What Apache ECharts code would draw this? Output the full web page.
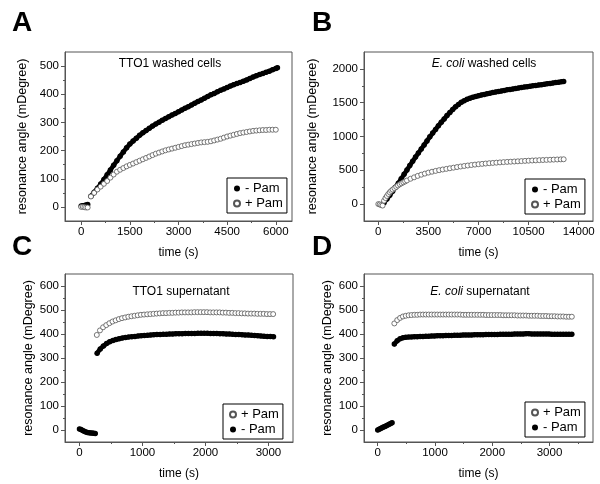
<!DOCTYPE html>
<html><head><meta charset="utf-8">
<script src="https://cdn.jsdelivr.net/npm/echarts@6/dist/echarts.min.js"></script>
<style>html,body{margin:0;padding:0;background:#fff}#c{width:600px;height:484px}</style>
</head><body><div id="c"></div>
<script>
const FONT = '"Liberation Sans", Arial, sans-serif';

// ---- tick labels ----
const xTicksA = [0, 1500, 3000, 4500, 6000];
const xMinorA = [750, 2250, 3750, 5250];
const yTicksA = [0, 100, 200, 300, 400, 500];
const yMinorA = [50, 150, 250, 350, 450];
const xTicksB = [0, 3500, 7000, 10500, 14000];
const xMinorB = [1750, 5250, 8750, 12250];
const yTicksB = [0, 500, 1000, 1500, 2000];
const yMinorB = [250, 750, 1250, 1750];
const xTicksC = [0, 1000, 2000, 3000];
const xMinorC = [500, 1500, 2500];
const xTicksD = [0, 1000, 2000, 3000];
const xMinorD = [500, 1500, 2500, 3500];
const yTicksCD = [0, 100, 200, 300, 400, 500, 600];
const yMinorCD = [50, 150, 250, 350, 450, 550];

// ---- series values [time (s), resonance angle (mDegree)] ----
// "Early" arrays = points recorded before the sample injection (before the jump)
const aMinusPamEarly = [[0,3],[50,4],[100,5],[150,7],[200,9]];
const aMinusPam = [[300,38],[400,52],[500,66],[600,81],[700,97],[800,114],[900,131],[1000,148],[1100,164],[1200,180],[1300,195],[1400,210],[1500,223],[1600,234],[1700,244],[1800,254],[1900,263],[2000,271],[2100,279],[2200,287],[2300,294],[2400,301],[2500,308],[2600,314],[2700,320],[2800,326],[2900,332],[3000,338],[3100,344],[3200,350],[3300,356],[3400,362],[3500,368],[3600,374],[3700,380],[3800,386],[3900,392],[4000,398],[4100,403],[4200,409],[4300,414],[4400,419],[4500,424],[4600,429],[4700,434],[4800,438],[4900,442],[5000,446],[5100,451],[5200,456],[5300,461],[5400,466],[5500,470],[5600,474],[5700,478],[5800,482],[5900,487],[6000,491],[6050,494]];
const aPlusPam = [[0,0],[50,0],[100,-1],[150,-2],[200,-2],[300,37],[400,50],[500,62],[600,72],[700,82],[800,92],[900,104],[1000,115],[1100,125],[1200,132],[1300,138],[1400,144],[1500,149],[1600,154],[1700,159],[1800,164],[1900,169],[2000,174],[2100,179],[2200,184],[2300,189],[2400,193],[2500,197],[2600,201],[2700,204],[2800,207],[2900,210],[3000,213],[3100,216],[3200,219],[3300,221],[3400,223],[3500,225],[3600,227],[3700,229],[3800,230],[3900,231],[4000,233],[4100,236],[4200,239],[4300,242],[4400,246],[4500,250],[4600,253],[4700,256],[4800,259],[4900,262],[5000,264],[5100,266],[5200,268],[5300,270],[5400,271],[5500,272],[5600,273],[5700,273],[5800,274],[5900,274],[6000,274]];

const bMinusPamEarly = [];
const bMinusPam = [[400,20],[600,75],[800,130],[1000,190],[1200,250],[1400,310],[1600,375],[1800,440],[2000,505],[2200,570],[2400,635],[2600,695],[2800,755],[3000,815],[3200,875],[3400,935],[3600,995],[3800,1050],[4000,1105],[4200,1160],[4400,1210],[4600,1260],[4800,1310],[5000,1355],[5200,1400],[5400,1440],[5600,1475],[5800,1505],[6000,1530],[6200,1550],[6400,1566],[6600,1580],[6800,1592],[7000,1603],[7200,1613],[7400,1623],[7600,1632],[7800,1641],[8000,1650],[8200,1658],[8400,1666],[8600,1674],[8800,1682],[9000,1690],[9200,1697],[9400,1704],[9600,1711],[9800,1718],[10000,1725],[10200,1731],[10400,1737],[10600,1743],[10800,1749],[11000,1755],[11200,1761],[11400,1767],[11600,1773],[11800,1779],[12000,1785],[12200,1791],[12400,1797],[12600,1803],[12800,1809],[12950,1814]];
const bPlusPam = [[0,0],[100,-5],[200,-15],[300,-22],[400,50],[500,90],[600,120],[700,150],[800,175],[900,196],[1000,215],[1125,236],[1250,255],[1375,275],[1500,293],[1625,308],[1750,322],[1875,336],[2000,350],[2250,375],[2500,396],[2750,417],[3000,435],[3250,451],[3500,466],[3750,479],[4000,491],[4250,502],[4500,512],[4750,521],[5000,530],[5250,539],[5500,548],[5750,556],[6000,564],[6250,571],[6500,578],[6750,584],[7000,590],[7250,595],[7500,600],[7750,605],[8000,609],[8250,613],[8500,617],[8750,621],[9000,624],[9250,627],[9500,630],[9750,633],[10000,636],[10250,639],[10500,642],[10750,645],[11000,647],[11250,650],[11500,652],[11750,654],[12000,656],[12250,658],[12500,660],[12750,662],[12950,663]];

const cMinusPamEarly = [[0,4],[25,2],[50,-2],[75,-5],[100,-8],[125,-10],[150,-11],[175,-12],[200,-13],[225,-14],[250,-15]];
const cMinusPam = [[280,320],[330,338],[380,350],[430,360],[480,368],[530,373],[580,377],[630,380],[680,383],[730,385],[780,387],[830,389],[880,390],[930,392],[980,393],[1030,394],[1080,395],[1130,396],[1180,397],[1230,398],[1280,398],[1330,399],[1380,399],[1430,400],[1480,400],[1530,401],[1580,401],[1630,401],[1680,402],[1730,402],[1780,402],[1830,402],[1880,403],[1930,403],[1980,403],[2030,403],[2080,402],[2130,402],[2180,402],[2230,401],[2280,401],[2330,400],[2380,400],[2430,399],[2480,398],[2530,398],[2580,397],[2630,396],[2680,396],[2730,395],[2780,394],[2830,393],[2880,392],[2930,391],[2980,390],[3030,390],[3080,389]];
const cPlusPam = [[275,396],[325,415],[375,428],[425,437],[475,445],[525,452],[575,457],[625,462],[675,466],[725,469],[775,472],[825,474],[875,476],[925,478],[975,480],[1025,481],[1075,482],[1125,483],[1175,484],[1225,485],[1275,486],[1325,487],[1375,487],[1425,488],[1475,488],[1525,489],[1575,489],[1625,490],[1675,490],[1725,490],[1775,490],[1825,491],[1875,491],[1925,491],[1975,491],[2025,491],[2075,490],[2125,490],[2175,490],[2225,490],[2275,489],[2325,489],[2375,488],[2425,488],[2475,487],[2525,487],[2575,486],[2625,486],[2675,485],[2725,485],[2775,485],[2825,484],[2875,484],[2925,484],[2975,483],[3025,483],[3075,483]];

const dMinusPamEarly = [[0,0],[25,3],[50,6],[75,9],[100,12],[125,15],[150,18],[175,21],[200,24],[225,27],[250,30]];
const dMinusPam = [[290,358],[340,372],[390,380],[440,384],[490,386],[540,387],[590,388],[640,389],[690,389],[740,390],[790,390],[840,391],[890,391],[940,392],[990,392],[1040,393],[1090,393],[1140,393],[1190,394],[1240,394],[1290,394],[1340,395],[1390,395],[1440,395],[1490,396],[1540,396],[1590,396],[1640,396],[1690,397],[1740,397],[1790,397],[1840,397],[1890,398],[1940,398],[1990,398],[2040,398],[2090,398],[2140,399],[2190,399],[2240,399],[2290,399],[2340,399],[2390,400],[2440,400],[2490,400],[2540,400],[2590,401],[2640,401],[2690,400],[2740,400],[2790,400],[2840,400],[2890,400],[2940,400],[2990,400],[3040,399],[3090,399],[3140,399],[3190,399],[3240,399],[3290,399],[3340,399],[3390,399]];
const dPlusPam = [[290,444],[340,458],[390,467],[440,473],[490,476],[540,478],[590,479],[640,480],[690,480],[740,481],[790,481],[840,481],[890,481],[940,481],[990,481],[1040,481],[1090,481],[1140,481],[1190,481],[1240,481],[1290,481],[1340,481],[1390,481],[1440,481],[1490,480],[1540,480],[1590,480],[1640,480],[1690,480],[1740,480],[1790,480],[1840,480],[1890,479],[1940,479],[1990,479],[2040,479],[2090,479],[2140,479],[2190,478],[2240,478],[2290,478],[2340,478],[2390,478],[2440,477],[2490,477],[2540,477],[2590,477],[2640,476],[2690,476],[2740,476],[2790,476],[2840,475],[2890,475],[2940,475],[2990,474],[3040,474],[3090,474],[3140,473],[3190,473],[3240,473],[3290,472],[3340,472],[3390,472]];

const panels = [
  {letter:'A', grid:{left:65, top:52, width:227, height:169}, xr:[-500,6500], yr:[-50,550],
   xt:xTicksA, xm:xMinorA, yt:yTicksA, ym:yMinorA, early:aMinusPamEarly, minus:aMinusPam, plus:aPlusPam,
   title:'TTO1 washed cells', tpos:[170,64], legend:{left:227, top:178}, order:['- Pam','+ Pam'], yGap:36, letterPos:[12,23]},
  {letter:'B', grid:{left:364, top:52, width:229, height:169}, xr:[-1000,15000], yr:[-250,2250],
   xt:xTicksB, xm:xMinorB, yt:yTicksB, ym:yMinorB, early:bMinusPamEarly, minus:bMinusPam, plus:bPlusPam,
   title:'{i|E. coli} washed cells', tpos:[484,64], legend:{left:525, top:179}, order:['- Pam','+ Pam'], yGap:45, letterPos:[312,23]},
  {letter:'C', grid:{left:65, top:274, width:228, height:168}, xr:[-230,3390], yr:[-50,650],
   xt:xTicksC, xm:xMinorC, yt:yTicksCD, ym:yMinorCD, early:cMinusPamEarly, minus:cMinusPam, plus:cPlusPam,
   title:'TTO1 supernatant', tpos:[181,292], legend:{left:223, top:404}, order:['+ Pam','- Pam'], yGap:30, letterPos:[12,247]},
  {letter:'D', grid:{left:364, top:274, width:229, height:168}, xr:[-240,3760], yr:[-50,650],
   xt:xTicksD, xm:xMinorD, yt:yTicksCD, ym:yMinorCD, early:dMinusPamEarly, minus:dMinusPam, plus:dPlusPam,
   title:'{i|E. coli} supernatant', tpos:[480,292], legend:{left:525, top:402}, order:['+ Pam','- Pam'], yGap:30, letterPos:[312,247]}
];

const AX = '#555';
const grid = [], xAxis = [], yAxis = [], series = [], legend = [], graphic = [];
const plain = v => String(v);
panels.forEach((p, i) => {
  grid.push(Object.assign({show:true, borderColor:AX, borderWidth:1, containLabel:false}, p.grid));
  const lab = {color:'#000', fontSize:11.5, fontFamily:FONT, formatter:plain};
  xAxis.push({type:'value', gridIndex:i, position:'bottom', min:p.xr[0], max:p.xr[1],
    name:'time (s)', nameLocation:'middle', nameGap:26,
    nameTextStyle:{color:'#000', fontSize:12, fontFamily:FONT},
    axisLine:{show:true, onZero:false, lineStyle:{color:AX, width:1}},
    axisTick:{show:true, customValues:p.xt, length:4, lineStyle:{color:AX}},
    axisLabel:Object.assign({customValues:p.xt, margin:5}, lab),
    splitLine:{show:false}});
  xAxis.push({type:'value', gridIndex:i, position:'bottom', min:p.xr[0], max:p.xr[1],
    axisLine:{show:false, onZero:false}, axisLabel:{show:false}, splitLine:{show:false},
    axisTick:{show:true, customValues:p.xm, length:2, lineStyle:{color:AX}}});
  yAxis.push({type:'value', gridIndex:i, position:'left', min:p.yr[0], max:p.yr[1],
    name:'resonance angle (mDegree)', nameLocation:'middle', nameGap:p.yGap,
    nameTextStyle:{color:'#000', fontSize:12.5, fontFamily:FONT},
    axisLine:{show:true, onZero:false, lineStyle:{color:AX, width:1}},
    axisTick:{show:true, customValues:p.yt, length:4, lineStyle:{color:AX}},
    axisLabel:Object.assign({customValues:p.yt, margin:6}, lab),
    splitLine:{show:false}});
  yAxis.push({type:'value', gridIndex:i, position:'left', min:p.yr[0], max:p.yr[1],
    axisLine:{show:false, onZero:false}, axisLabel:{show:false}, splitLine:{show:false},
    axisTick:{show:true, customValues:p.ym, length:2, lineStyle:{color:AX}}});
  const filled = data => ({type:'line', name:'- Pam', xAxisIndex:2*i, yAxisIndex:2*i, data,
    symbol:'circle', symbolSize:5.5, showSymbol:true,
    lineStyle:{color:'#000', width:4.5, cap:'round', join:'round'},
    itemStyle:{color:'#000', opacity:1}, z:2, silent:true});
  if (p.early.length) series.push(filled(p.early));
  series.push(filled(p.minus));
  series.push({type:'scatter', name:'+ Pam', xAxisIndex:2*i, yAxisIndex:2*i, data:p.plus,
    symbol:'circle', symbolSize:5,
    itemStyle:{color:'#fff', borderColor:'#555', borderWidth:0.8, opacity:1}, z:3, silent:true});
  legend.push({left:p.legend.left, top:p.legend.top, orient:'vertical',
    data:p.order.map(n => ({name:n, icon:'circle'})),
    borderColor:'#000', borderWidth:1, backgroundColor:'#fff', padding:[4,4,3,6],
    itemGap:2, itemWidth:6, itemHeight:6, selectedMode:false,
    textStyle:{color:'#000', fontSize:13, fontFamily:FONT, lineHeight:12}});
  graphic.push({type:'text', x:p.letterPos[0], y:p.letterPos[1],
    style:{text:p.letter, fill:'#000', fontSize:28, fontWeight:'bold', fontFamily:FONT, align:'left', verticalAlign:'middle'}});
  graphic.push({type:'text', x:p.tpos[0], y:p.tpos[1],
    style:{text:p.title, fill:'#000', fontSize:12, fontFamily:FONT, align:'center', verticalAlign:'middle',
      rich:{i:{fontStyle:'italic', fontSize:12, fontFamily:FONT, fill:'#000'}}}});
});

const chart = echarts.init(document.getElementById('c'), null, {renderer:'canvas'});
chart.setOption({animation:false, backgroundColor:'#fff', grid, xAxis, yAxis, series, legend, graphic});
</script>
</body></html>
